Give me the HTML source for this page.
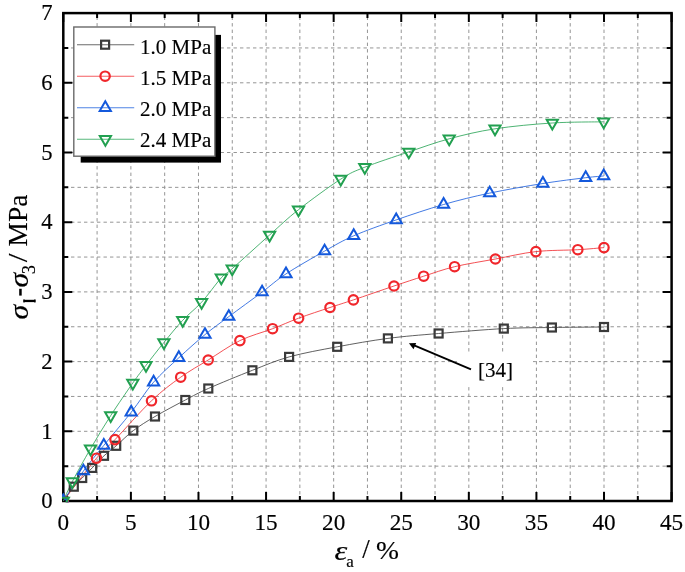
<!DOCTYPE html><html><head><meta charset="utf-8"><style>html,body{margin:0;padding:0;background:#fff;}svg{display:block;filter:blur(0.35px);}text{font-family:"Liberation Serif",serif;fill:#000;stroke:#000;stroke-width:0.15px;}</style></head><body>
<svg width="685" height="572" viewBox="0 0 685 572">
<rect width="685" height="572" fill="#fff"/>
<defs><clipPath id="pa"><rect x="62.05" y="11.85" width="610.80" height="490.40"/></clipPath></defs>
<path d="M97.09 501.00V13.10M130.89 501.00V13.10M164.68 501.00V13.10M198.48 501.00V13.10M232.27 501.00V13.10M266.07 501.00V13.10M299.86 501.00V13.10M333.66 501.00V13.10M367.45 501.00V13.10M401.24 501.00V13.10M435.04 501.00V13.10M468.83 501.00V13.10M502.63 501.00V13.10M536.42 501.00V13.10M570.22 501.00V13.10M604.01 501.00V13.10M637.81 501.00V13.10" stroke="#959595" stroke-width="1" stroke-dasharray="3.4 3.1" fill="none"/>
<path d="M63.30 466.15H671.60M63.30 431.30H671.60M63.30 396.45H671.60M63.30 361.60H671.60M63.30 326.75H671.60M63.30 291.90H671.60M63.30 257.05H671.60M63.30 222.20H671.60M63.30 187.35H671.60M63.30 152.50H671.60M63.30 117.65H671.60M63.30 82.80H671.60M63.30 47.95H671.60" stroke="#959595" stroke-width="1" stroke-dasharray="3.4 3.1" stroke-dashoffset="-1.2" fill="none"/>
<path d="M63.30 501.00v-9.00M63.30 13.10v9.00M97.09 501.00v-5.00M97.09 13.10v5.00M130.89 501.00v-9.00M130.89 13.10v9.00M164.68 501.00v-5.00M164.68 13.10v5.00M198.48 501.00v-9.00M198.48 13.10v9.00M232.27 501.00v-5.00M232.27 13.10v5.00M266.07 501.00v-9.00M266.07 13.10v9.00M299.86 501.00v-5.00M299.86 13.10v5.00M333.66 501.00v-9.00M333.66 13.10v9.00M367.45 501.00v-5.00M367.45 13.10v5.00M401.24 501.00v-9.00M401.24 13.10v9.00M435.04 501.00v-5.00M435.04 13.10v5.00M468.83 501.00v-9.00M468.83 13.10v9.00M502.63 501.00v-5.00M502.63 13.10v5.00M536.42 501.00v-9.00M536.42 13.10v9.00M570.22 501.00v-5.00M570.22 13.10v5.00M604.01 501.00v-9.00M604.01 13.10v9.00M637.81 501.00v-5.00M637.81 13.10v5.00M671.60 501.00v-9.00M671.60 13.10v9.00M63.30 501.00h9.00M671.60 501.00h-9.00M63.30 466.15h5.00M671.60 466.15h-5.00M63.30 431.30h9.00M671.60 431.30h-9.00M63.30 396.45h5.00M671.60 396.45h-5.00M63.30 361.60h9.00M671.60 361.60h-9.00M63.30 326.75h5.00M671.60 326.75h-5.00M63.30 291.90h9.00M671.60 291.90h-9.00M63.30 257.05h5.00M671.60 257.05h-5.00M63.30 222.20h9.00M671.60 222.20h-9.00M63.30 187.35h5.00M671.60 187.35h-5.00M63.30 152.50h9.00M671.60 152.50h-9.00M63.30 117.65h5.00M671.60 117.65h-5.00M63.30 82.80h9.00M671.60 82.80h-9.00M63.30 47.95h5.00M671.60 47.95h-5.00M63.30 13.10h9.00M671.60 13.10h-9.00" stroke="#000" stroke-width="2" fill="none"/>
<rect x="63.30" y="13.10" width="608.30" height="487.90" fill="none" stroke="#000" stroke-width="2.5"/>
<g clip-path="url(#pa)">
<path d="M63.30 501.00 C65.05 498.62 70.65 490.53 73.80 486.70 C76.95 482.87 79.13 481.13 82.20 478.00 C85.27 474.87 88.57 471.60 92.20 467.90 C95.83 464.20 100.00 459.48 104.00 455.80 C108.00 452.12 111.32 450.00 116.20 445.80 C121.08 441.60 126.83 435.48 133.30 430.60 C139.77 425.72 146.33 421.60 155.00 416.50 C163.67 411.40 176.42 404.67 185.30 400.00 C194.18 395.33 197.12 393.45 208.30 388.50 C219.48 383.55 238.93 375.57 252.40 370.30 C265.87 365.03 274.97 360.82 289.10 356.90 C303.23 352.98 320.73 349.88 337.20 346.80 C353.67 343.72 371.00 340.62 387.90 338.40 C404.80 336.18 419.28 335.13 438.60 333.50 C457.92 331.87 484.92 329.60 503.80 328.60 C522.68 327.60 535.20 327.77 551.90 327.50 C568.60 327.23 595.32 327.08 604.00 327.00" fill="none" stroke="#3a3a3a" stroke-width="1" stroke-opacity="0.8"/>
<path d="M63.30 501.00 C68.83 493.87 87.88 468.43 96.50 458.20 C105.12 447.97 105.83 449.17 115.00 439.60 C124.17 430.03 140.55 411.20 151.50 400.80 C162.45 390.40 171.25 384.00 180.70 377.20 C190.15 370.40 198.33 366.10 208.20 360.00 C218.07 353.90 229.17 345.82 239.90 340.60 C250.63 335.38 262.82 332.43 272.60 328.70 C282.38 324.97 289.03 321.73 298.60 318.20 C308.17 314.67 320.87 310.55 330.00 307.50 C339.13 304.45 342.73 303.48 353.40 299.90 C364.07 296.32 382.28 289.95 394.00 286.00 C405.72 282.05 413.60 279.42 423.70 276.20 C433.80 272.98 442.65 269.57 454.60 266.70 C466.55 263.83 481.85 261.52 495.40 259.00 C508.95 256.48 522.17 253.15 535.90 251.60 C549.63 250.05 566.45 250.37 577.80 249.70 C589.15 249.03 599.63 247.95 604.00 247.60" fill="none" stroke="#f0262b" stroke-width="1" stroke-opacity="0.8"/>
<path d="M63.30 501.00 C66.65 496.02 76.65 480.37 83.40 471.10 C90.15 461.83 95.83 455.20 103.80 445.40 C111.77 435.60 122.90 422.83 131.20 412.30 C139.50 401.77 145.67 391.28 153.60 382.20 C161.53 373.12 170.23 365.73 178.80 357.80 C187.37 349.87 196.67 341.47 205.00 334.60 C213.33 327.73 219.28 323.68 228.80 316.60 C238.32 309.52 252.57 299.22 262.10 292.10 C271.63 284.98 275.58 280.73 286.00 273.90 C296.42 267.07 313.32 257.45 324.60 251.10 C335.88 244.75 341.77 241.00 353.70 235.80 C365.63 230.60 381.22 225.12 396.20 219.90 C411.18 214.68 428.02 208.97 443.60 204.50 C459.18 200.03 473.15 196.60 489.70 193.10 C506.25 189.60 526.90 186.07 542.90 183.50 C558.90 180.93 575.57 178.95 585.70 177.70 C595.83 176.45 600.70 176.28 603.70 176.00" fill="none" stroke="#1459dc" stroke-width="1" stroke-opacity="0.8"/>
<path d="M63.30 501.00 C64.80 497.77 67.77 490.30 72.30 481.60 C76.83 472.90 84.10 459.80 90.50 448.80 C96.90 437.80 103.65 426.57 110.70 415.60 C117.75 404.63 126.92 391.38 132.80 383.00 C138.68 374.62 140.82 372.05 146.00 365.30 C151.18 358.55 157.78 350.00 163.90 342.50 C170.02 335.00 176.42 327.02 182.70 320.30 C188.98 313.58 195.17 309.28 201.60 302.20 C208.03 295.12 216.20 283.38 221.30 277.80 C226.40 272.22 224.15 275.83 232.20 268.70 C240.25 261.57 258.55 244.83 269.60 235.00 C280.65 225.17 286.63 219.02 298.50 209.70 C310.37 200.38 329.75 186.18 340.80 179.10 C351.85 172.02 353.47 171.73 364.80 167.20 C376.13 162.67 394.73 156.63 408.80 151.90 C422.87 147.17 434.83 142.65 449.20 138.80 C463.57 134.95 477.82 131.43 495.00 128.80 C512.18 126.17 534.18 124.17 552.30 123.00 C570.42 121.83 595.13 122.00 603.70 121.80" fill="none" stroke="#22a050" stroke-width="1" stroke-opacity="0.8"/>
<rect x="59.30" y="497.00" width="8.00" height="8.00" fill="none" stroke="#3a3a3a" stroke-width="2.2"/>
<rect x="69.80" y="482.70" width="8.00" height="8.00" fill="none" stroke="#3a3a3a" stroke-width="2.2"/>
<rect x="78.20" y="474.00" width="8.00" height="8.00" fill="none" stroke="#3a3a3a" stroke-width="2.2"/>
<rect x="88.20" y="463.90" width="8.00" height="8.00" fill="none" stroke="#3a3a3a" stroke-width="2.2"/>
<rect x="100.00" y="451.80" width="8.00" height="8.00" fill="none" stroke="#3a3a3a" stroke-width="2.2"/>
<rect x="112.20" y="441.80" width="8.00" height="8.00" fill="none" stroke="#3a3a3a" stroke-width="2.2"/>
<rect x="129.30" y="426.60" width="8.00" height="8.00" fill="none" stroke="#3a3a3a" stroke-width="2.2"/>
<rect x="151.00" y="412.50" width="8.00" height="8.00" fill="none" stroke="#3a3a3a" stroke-width="2.2"/>
<rect x="181.30" y="396.00" width="8.00" height="8.00" fill="none" stroke="#3a3a3a" stroke-width="2.2"/>
<rect x="204.30" y="384.50" width="8.00" height="8.00" fill="none" stroke="#3a3a3a" stroke-width="2.2"/>
<rect x="248.40" y="366.30" width="8.00" height="8.00" fill="none" stroke="#3a3a3a" stroke-width="2.2"/>
<rect x="285.10" y="352.90" width="8.00" height="8.00" fill="none" stroke="#3a3a3a" stroke-width="2.2"/>
<rect x="333.20" y="342.80" width="8.00" height="8.00" fill="none" stroke="#3a3a3a" stroke-width="2.2"/>
<rect x="383.90" y="334.40" width="8.00" height="8.00" fill="none" stroke="#3a3a3a" stroke-width="2.2"/>
<rect x="434.60" y="329.50" width="8.00" height="8.00" fill="none" stroke="#3a3a3a" stroke-width="2.2"/>
<rect x="499.80" y="324.60" width="8.00" height="8.00" fill="none" stroke="#3a3a3a" stroke-width="2.2"/>
<rect x="547.90" y="323.50" width="8.00" height="8.00" fill="none" stroke="#3a3a3a" stroke-width="2.2"/>
<rect x="600.00" y="323.00" width="8.00" height="8.00" fill="none" stroke="#3a3a3a" stroke-width="2.2"/>
<circle cx="63.30" cy="501.00" r="4.70" fill="none" stroke="#f0262b" stroke-width="2.2"/>
<circle cx="96.50" cy="458.20" r="4.70" fill="none" stroke="#f0262b" stroke-width="2.2"/>
<circle cx="115.00" cy="439.60" r="4.70" fill="none" stroke="#f0262b" stroke-width="2.2"/>
<circle cx="151.50" cy="400.80" r="4.70" fill="none" stroke="#f0262b" stroke-width="2.2"/>
<circle cx="180.70" cy="377.20" r="4.70" fill="none" stroke="#f0262b" stroke-width="2.2"/>
<circle cx="208.20" cy="360.00" r="4.70" fill="none" stroke="#f0262b" stroke-width="2.2"/>
<circle cx="239.90" cy="340.60" r="4.70" fill="none" stroke="#f0262b" stroke-width="2.2"/>
<circle cx="272.60" cy="328.70" r="4.70" fill="none" stroke="#f0262b" stroke-width="2.2"/>
<circle cx="298.60" cy="318.20" r="4.70" fill="none" stroke="#f0262b" stroke-width="2.2"/>
<circle cx="330.00" cy="307.50" r="4.70" fill="none" stroke="#f0262b" stroke-width="2.2"/>
<circle cx="353.40" cy="299.90" r="4.70" fill="none" stroke="#f0262b" stroke-width="2.2"/>
<circle cx="394.00" cy="286.00" r="4.70" fill="none" stroke="#f0262b" stroke-width="2.2"/>
<circle cx="423.70" cy="276.20" r="4.70" fill="none" stroke="#f0262b" stroke-width="2.2"/>
<circle cx="454.60" cy="266.70" r="4.70" fill="none" stroke="#f0262b" stroke-width="2.2"/>
<circle cx="495.40" cy="259.00" r="4.70" fill="none" stroke="#f0262b" stroke-width="2.2"/>
<circle cx="535.90" cy="251.60" r="4.70" fill="none" stroke="#f0262b" stroke-width="2.2"/>
<circle cx="577.80" cy="249.70" r="4.70" fill="none" stroke="#f0262b" stroke-width="2.2"/>
<circle cx="604.00" cy="247.60" r="4.70" fill="none" stroke="#f0262b" stroke-width="2.2"/>
<polygon points="63.30,494.53 68.90,504.23 57.70,504.23" fill="none" stroke="#1459dc" stroke-width="2" stroke-linejoin="miter"/>
<polygon points="83.40,464.63 89.00,474.33 77.80,474.33" fill="none" stroke="#1459dc" stroke-width="2" stroke-linejoin="miter"/>
<polygon points="103.80,438.93 109.40,448.63 98.20,448.63" fill="none" stroke="#1459dc" stroke-width="2" stroke-linejoin="miter"/>
<polygon points="131.20,405.83 136.80,415.53 125.60,415.53" fill="none" stroke="#1459dc" stroke-width="2" stroke-linejoin="miter"/>
<polygon points="153.60,375.73 159.20,385.43 148.00,385.43" fill="none" stroke="#1459dc" stroke-width="2" stroke-linejoin="miter"/>
<polygon points="178.80,351.33 184.40,361.03 173.20,361.03" fill="none" stroke="#1459dc" stroke-width="2" stroke-linejoin="miter"/>
<polygon points="205.00,328.13 210.60,337.83 199.40,337.83" fill="none" stroke="#1459dc" stroke-width="2" stroke-linejoin="miter"/>
<polygon points="228.80,310.13 234.40,319.83 223.20,319.83" fill="none" stroke="#1459dc" stroke-width="2" stroke-linejoin="miter"/>
<polygon points="262.10,285.63 267.70,295.33 256.50,295.33" fill="none" stroke="#1459dc" stroke-width="2" stroke-linejoin="miter"/>
<polygon points="286.00,267.43 291.60,277.13 280.40,277.13" fill="none" stroke="#1459dc" stroke-width="2" stroke-linejoin="miter"/>
<polygon points="324.60,244.63 330.20,254.33 319.00,254.33" fill="none" stroke="#1459dc" stroke-width="2" stroke-linejoin="miter"/>
<polygon points="353.70,229.33 359.30,239.03 348.10,239.03" fill="none" stroke="#1459dc" stroke-width="2" stroke-linejoin="miter"/>
<polygon points="396.20,213.43 401.80,223.13 390.60,223.13" fill="none" stroke="#1459dc" stroke-width="2" stroke-linejoin="miter"/>
<polygon points="443.60,198.03 449.20,207.73 438.00,207.73" fill="none" stroke="#1459dc" stroke-width="2" stroke-linejoin="miter"/>
<polygon points="489.70,186.63 495.30,196.33 484.10,196.33" fill="none" stroke="#1459dc" stroke-width="2" stroke-linejoin="miter"/>
<polygon points="542.90,177.03 548.50,186.73 537.30,186.73" fill="none" stroke="#1459dc" stroke-width="2" stroke-linejoin="miter"/>
<polygon points="585.70,171.23 591.30,180.93 580.10,180.93" fill="none" stroke="#1459dc" stroke-width="2" stroke-linejoin="miter"/>
<polygon points="603.70,169.53 609.30,179.23 598.10,179.23" fill="none" stroke="#1459dc" stroke-width="2" stroke-linejoin="miter"/>
<polygon points="63.30,507.47 68.90,497.77 57.70,497.77" fill="none" stroke="#22a050" stroke-width="2" stroke-linejoin="miter"/>
<polygon points="72.30,488.07 77.90,478.37 66.70,478.37" fill="none" stroke="#22a050" stroke-width="2" stroke-linejoin="miter"/>
<polygon points="90.50,455.27 96.10,445.57 84.90,445.57" fill="none" stroke="#22a050" stroke-width="2" stroke-linejoin="miter"/>
<polygon points="110.70,422.07 116.30,412.37 105.10,412.37" fill="none" stroke="#22a050" stroke-width="2" stroke-linejoin="miter"/>
<polygon points="132.80,389.47 138.40,379.77 127.20,379.77" fill="none" stroke="#22a050" stroke-width="2" stroke-linejoin="miter"/>
<polygon points="146.00,371.77 151.60,362.07 140.40,362.07" fill="none" stroke="#22a050" stroke-width="2" stroke-linejoin="miter"/>
<polygon points="163.90,348.97 169.50,339.27 158.30,339.27" fill="none" stroke="#22a050" stroke-width="2" stroke-linejoin="miter"/>
<polygon points="182.70,326.77 188.30,317.07 177.10,317.07" fill="none" stroke="#22a050" stroke-width="2" stroke-linejoin="miter"/>
<polygon points="201.60,308.67 207.20,298.97 196.00,298.97" fill="none" stroke="#22a050" stroke-width="2" stroke-linejoin="miter"/>
<polygon points="221.30,284.27 226.90,274.57 215.70,274.57" fill="none" stroke="#22a050" stroke-width="2" stroke-linejoin="miter"/>
<polygon points="232.20,275.17 237.80,265.47 226.60,265.47" fill="none" stroke="#22a050" stroke-width="2" stroke-linejoin="miter"/>
<polygon points="269.60,241.47 275.20,231.77 264.00,231.77" fill="none" stroke="#22a050" stroke-width="2" stroke-linejoin="miter"/>
<polygon points="298.50,216.17 304.10,206.47 292.90,206.47" fill="none" stroke="#22a050" stroke-width="2" stroke-linejoin="miter"/>
<polygon points="340.80,185.57 346.40,175.87 335.20,175.87" fill="none" stroke="#22a050" stroke-width="2" stroke-linejoin="miter"/>
<polygon points="364.80,173.67 370.40,163.97 359.20,163.97" fill="none" stroke="#22a050" stroke-width="2" stroke-linejoin="miter"/>
<polygon points="408.80,158.37 414.40,148.67 403.20,148.67" fill="none" stroke="#22a050" stroke-width="2" stroke-linejoin="miter"/>
<polygon points="449.20,145.27 454.80,135.57 443.60,135.57" fill="none" stroke="#22a050" stroke-width="2" stroke-linejoin="miter"/>
<polygon points="495.00,135.27 500.60,125.57 489.40,125.57" fill="none" stroke="#22a050" stroke-width="2" stroke-linejoin="miter"/>
<polygon points="552.30,129.47 557.90,119.77 546.70,119.77" fill="none" stroke="#22a050" stroke-width="2" stroke-linejoin="miter"/>
<polygon points="603.70,128.27 609.30,118.57 598.10,118.57" fill="none" stroke="#22a050" stroke-width="2" stroke-linejoin="miter"/>
</g>
<text x="63.30" y="529.9" font-size="23.2" text-anchor="middle">0</text>
<text x="130.89" y="529.9" font-size="23.2" text-anchor="middle">5</text>
<text x="198.48" y="529.9" font-size="23.2" text-anchor="middle">10</text>
<text x="266.07" y="529.9" font-size="23.2" text-anchor="middle">15</text>
<text x="333.66" y="529.9" font-size="23.2" text-anchor="middle">20</text>
<text x="401.24" y="529.9" font-size="23.2" text-anchor="middle">25</text>
<text x="468.83" y="529.9" font-size="23.2" text-anchor="middle">30</text>
<text x="536.42" y="529.9" font-size="23.2" text-anchor="middle">35</text>
<text x="604.01" y="529.9" font-size="23.2" text-anchor="middle">40</text>
<text x="671.60" y="529.9" font-size="23.2" text-anchor="middle">45</text>
<text x="52.6" y="508.20" font-size="22.6" text-anchor="end">0</text>
<text x="52.6" y="438.50" font-size="22.6" text-anchor="end">1</text>
<text x="52.6" y="368.80" font-size="22.6" text-anchor="end">2</text>
<text x="52.6" y="299.10" font-size="22.6" text-anchor="end">3</text>
<text x="52.6" y="229.40" font-size="22.6" text-anchor="end">4</text>
<text x="52.6" y="159.70" font-size="22.6" text-anchor="end">5</text>
<text x="52.6" y="90.00" font-size="22.6" text-anchor="end">6</text>
<text x="52.6" y="20.30" font-size="22.6" text-anchor="end">7</text>
<text transform="translate(334.6,559.5) scale(1.2,1)" font-size="27" font-style="italic">ε</text>
<text x="346.2" y="567.4" font-size="17">a</text>
<text x="362.2" y="558.4" font-size="27">/</text>
<text transform="translate(375.9,558.6) scale(1.06,1)" font-size="26">%</text>
<g transform="rotate(-90)"><text transform="translate(-319.6,27.6) scale(1.12,1)" font-size="26.5" font-style="italic">σ</text><text transform="translate(-287.6,27.6) scale(1.12,1)" font-size="26.5" font-style="italic">σ</text><text x="-274.2" y="35.3" font-size="18.5">3</text><text transform="translate(-262.3,27.2) scale(1.15,1)" font-size="27">/</text><text x="-246.4" y="27.2" font-size="27.4">MPa</text></g>
<rect x="23.5" y="299.8" width="11.9" height="2.3" fill="#000"/>
<rect x="23.4" y="299.4" width="1.2" height="3.1" fill="#000"/>
<rect x="34.3" y="299.4" width="1.2" height="3.1" fill="#000"/>
<rect x="19.2" y="288.8" width="2.5" height="6.8" fill="#000"/>
<rect x="457" y="352" width="76" height="35" fill="#fff"/>
<path d="M471 369.4 L413 344.9" stroke="#000" stroke-width="1.8" fill="none"/>
<polygon points="408.9,343.3 416.2,342.9 413.5,349.2" fill="#000"/>
<text x="477.9" y="377.2" font-size="21">[34]</text>
<rect x="80.7" y="34.9" width="140.3" height="127.7" fill="#000"/>
<rect x="73.80" y="27.00" width="141.10" height="129.20" fill="#fff" stroke="#6a6a6a" stroke-width="1.4"/>
<path d="M77 44.70H134.2" stroke="#3a3a3a" stroke-width="1.1" fill="none" opacity="0.75"/>
<rect x="101.10" y="40.70" width="8.00" height="8.00" fill="none" stroke="#3a3a3a" stroke-width="2.2"/>
<text x="140.1" y="53.50" font-size="21">1.0 MPa</text>
<path d="M77 76.20H134.2" stroke="#f0262b" stroke-width="1.1" fill="none" opacity="0.75"/>
<circle cx="105.10" cy="76.20" r="4.70" fill="none" stroke="#f0262b" stroke-width="2.2"/>
<text x="140.1" y="84.75" font-size="21">1.5 MPa</text>
<path d="M77 107.70H134.2" stroke="#1459dc" stroke-width="1.1" fill="none" opacity="0.75"/>
<polygon points="105.30,101.23 110.90,110.93 99.70,110.93" fill="none" stroke="#1459dc" stroke-width="2" stroke-linejoin="miter"/>
<text x="140.1" y="116.00" font-size="21">2.0 MPa</text>
<path d="M77 139.20H134.2" stroke="#22a050" stroke-width="1.1" fill="none" opacity="0.75"/>
<polygon points="105.40,145.67 111.00,135.97 99.80,135.97" fill="none" stroke="#22a050" stroke-width="2" stroke-linejoin="miter"/>
<text x="140.1" y="147.25" font-size="21">2.4 MPa</text>
</svg></body></html>
